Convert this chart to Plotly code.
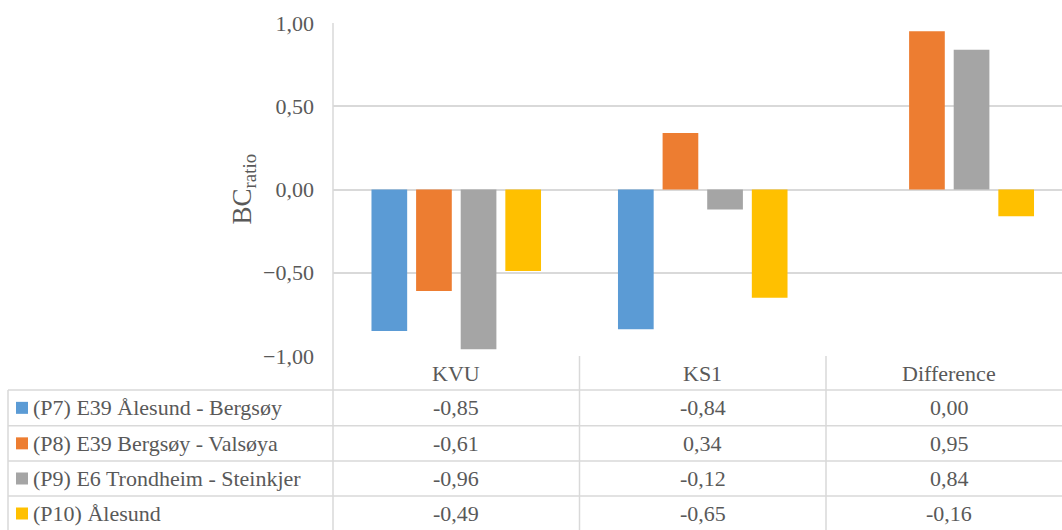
import plotly.graph_objects as go

categories = ["KVU", "KS1", "Difference"]
series_names = [
    "(P7) E39 Ålesund - Bergsøy",
    "(P8) E39 Bergsøy - Valsøya",
    "(P9) E6 Trondheim - Steinkjer",
    "(P10) Ålesund",
]
p7_values = [-0.85, -0.84, 0.00]
p8_values = [-0.61, 0.34, 0.95]
p9_values = [-0.96, -0.12, 0.84]
p10_values = [-0.49, -0.65, -0.16]
colors = ["#5B9BD5", "#ED7D31", "#A5A5A5", "#FFC000"]
y_ticks = [-1.0, -0.5, 0.0, 0.5, 1.0]

all_values = [p7_values, p8_values, p9_values, p10_values]

W, H = 1062, 530
L, T, B_PX = 333, 23, 356  # plot area pixel edges
PW = W - L
PH = B_PX - T
FONT = "Liberation Serif"
TXT = "#595959"
LINE = "#D9D9D9"


def px_x(p):
    return (p - L) / PW


def px_y(p):
    return (B_PX - p) / PH


fig = go.Figure()
for name, vals, col in zip(series_names, all_values, colors):
    fig.add_trace(go.Bar(x=categories, y=vals, name=name, marker_color=col,
                         marker_line_width=0, showlegend=False))

shapes = []
annotations = []

row_lines = [390, 425.7, 461, 496]
bottom = 531
row_centers = [(a + b) / 2 for a, b in zip(row_lines, row_lines[1:] + [bottom])]

for yl in row_lines:
    shapes.append(dict(type="line", xref="paper", yref="paper",
                       x0=px_x(8), x1=1.02, y0=px_y(yl), y1=px_y(yl),
                       line=dict(color=LINE, width=1.5)))
shapes.append(dict(type="line", xref="paper", yref="paper",
                   x0=px_x(8), x1=px_x(8), y0=px_y(row_lines[0]), y1=px_y(bottom),
                   line=dict(color=LINE, width=1.5)))
shapes.append(dict(type="line", xref="paper", yref="paper",
                   x0=0, x1=0, y0=1, y1=px_y(bottom),
                   line=dict(color=LINE, width=1.5)))
for k in range(1, len(categories)):
    shapes.append(dict(type="line", xref="x", yref="paper",
                       x0=k - 0.5, x1=k - 0.5, y0=0, y1=px_y(bottom),
                       line=dict(color=LINE, width=1.5)))

TFONT = dict(family=FONT, size=22, color=TXT)

for c in categories:
    annotations.append(dict(x=c, xref="x", y=px_y(374), yref="paper",
                            text=c, showarrow=False, xanchor="center", yanchor="middle",
                            font=TFONT))


def fmt(v):
    s = f"{v:.2f}".replace(".", ",")
    if s == "-0,00":
        s = "0,00"
    return s


for r, (name, vals, col) in enumerate(zip(series_names, all_values, colors)):
    yc = row_centers[r]
    shapes.append(dict(type="rect", xref="paper", yref="paper",
                       x0=px_x(16), x1=px_x(28), y0=px_y(yc - 6), y1=px_y(yc + 6),
                       fillcolor=col, line=dict(width=0)))
    annotations.append(dict(x=px_x(31), xref="paper", y=px_y(yc), yref="paper",
                            text=name, showarrow=False, xanchor="left", yanchor="middle",
                            font=TFONT))
    for c, v in zip(categories, vals):
        annotations.append(dict(x=c, xref="x", y=px_y(yc), yref="paper",
                                text=fmt(v), showarrow=False,
                                xanchor="center", yanchor="middle",
                                font=TFONT))

annotations.append(dict(x=px_x(243), xref="paper", y=0.5, yref="paper",
                        text="BC<sub>ratio</sub>", showarrow=False, textangle=-90,
                        xanchor="center", yanchor="middle",
                        font=dict(family=FONT, size=27, color=TXT)))

cat_w = 246.5
span = PW / cat_w

fig.update_layout(
    width=W, height=H,
    margin=dict(l=L, r=0, t=T, b=H - B_PX, pad=0),
    paper_bgcolor="white", plot_bgcolor="white",
    separators=", ",
    barmode="group", bargap=0.276, bargroupgap=0.2,
    xaxis=dict(type="category", range=[-0.5, -0.5 + span], showticklabels=False,
               showgrid=False, zeroline=False, showline=False, fixedrange=True),
    yaxis=dict(range=[-1, 1], tickvals=y_ticks, tickformat=".2f",
               showgrid=True, gridcolor=LINE, gridwidth=1.5,
               zeroline=True, zerolinecolor=LINE, zerolinewidth=1.5,
               showline=False, ticks="", ticklabelstandoff=18,
               tickfont=dict(family=FONT, size=22, color=TXT)),
    shapes=shapes,
    annotations=annotations,
)

fig.write_html("out.html")
